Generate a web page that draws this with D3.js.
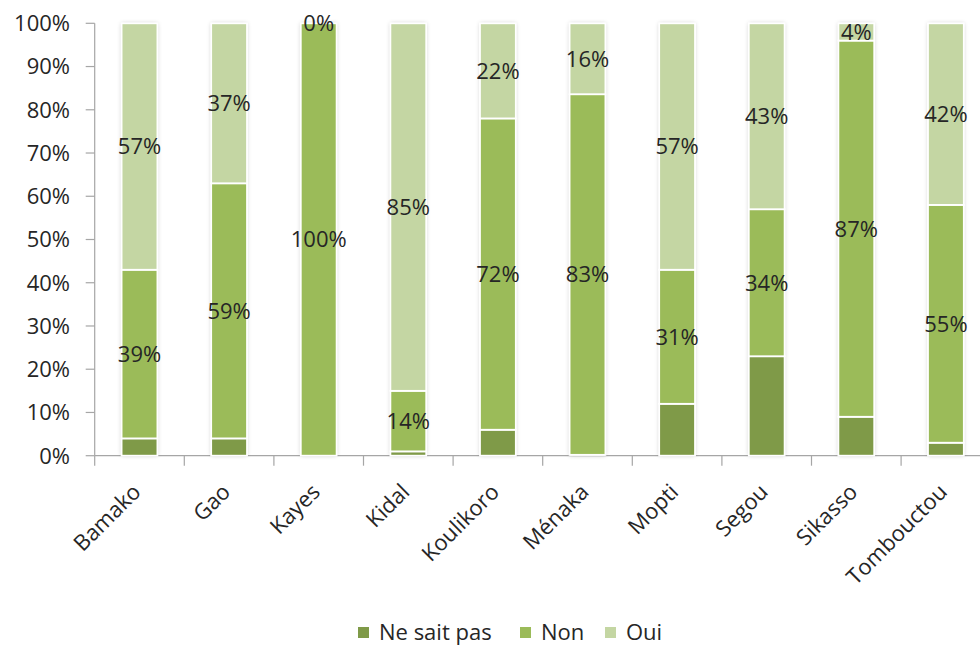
<!DOCTYPE html>
<html><head><meta charset="utf-8">
<script src="https://cdn.jsdelivr.net/npm/d3@7"></script>
<style>
html,body{margin:0;padding:0;background:#fff;}
svg{display:block;font-family:"Open Sans",sans-serif;}
</style></head>
<body><svg id="c" width="980" height="647"></svg>
<script>
const categories = ["Bamako","Gao","Kayes","Kidal","Koulikoro","Ménaka","Mopti","Segou","Sikasso","Tombouctou"];
const seriesNames = ["Ne sait pas","Non","Oui"];
const neSaitPas = [4, 4, 0, 1, 6, 0.2, 12, 23, 9, 3];
const non = [39, 59, 100, 14, 72, 83.4, 31, 34, 87, 55];
const oui = [57, 37, 0, 85, 22, 16.4, 57, 43, 4, 42];
const yTicks = [0,10,20,30,40,50,60,70,80,90,100];
const colors = ["#7f9a48","#9bbb59","#c4d6a3"];

const svg = d3.select("#c");
const defs = svg.append("defs");
const f = defs.append("filter").attr("id","sh").attr("x","-30%").attr("y","-5%").attr("width","160%").attr("height","110%");
f.append("feDropShadow").attr("dx",0).attr("dy",0).attr("stdDeviation",2).attr("flood-color","#000").attr("flood-opacity",0.22);

const x = d3.scaleBand().domain(categories).range([94.7, 990.7]).paddingInner(0.6).paddingOuter(0.3);
const y = d3.scaleLinear().domain([0,100]).range([455.7, 23.3]);

const rows = categories.map((c,i)=>({cat:c, "Ne sait pas":neSaitPas[i], "Non":non[i], "Oui":oui[i]}));
const stacked = d3.stack().keys(seriesNames)(rows);

// axes
const axisColor = "#a6a6a6";
svg.append("line").attr("x1",x.range()[0]).attr("x2",x.range()[0]).attr("y1",y(0)).attr("y2",y(100)).attr("stroke",axisColor).attr("stroke-width",1.2);
svg.selectAll(".yt").data(yTicks).enter().append("line")
  .attr("x1",x.range()[0]-9).attr("x2",x.range()[0]).attr("y1",d=>y(d)).attr("y2",d=>y(d)).attr("stroke",axisColor).attr("stroke-width",1.2);
svg.selectAll(".yl").data(yTicks).enter().append("text")
  .attr("x",70).attr("y",d=>y(d)).attr("dy","0.36em").attr("text-anchor","end")
  .attr("font-size",22).attr("fill","#262626").text(d=>d+"%");

const step = x.step();
const tickXs = categories.map(c=>x(c)+x.bandwidth()/2-step/2).concat([x(categories[categories.length-1])+x.bandwidth()/2+step/2]);
svg.selectAll(".xt").data(tickXs).enter().append("line")
  .attr("x1",d=>d).attr("x2",d=>d).attr("y1",y(0)).attr("y2",y(0)+10).attr("stroke",axisColor).attr("stroke-width",1.2);
svg.append("line").attr("x1",x.range()[0]).attr("x2",980).attr("y1",y(0)).attr("y2",y(0)).attr("stroke",axisColor).attr("stroke-width",1.2);

// bars
const g = svg.append("g");
g.selectAll(".bg").data(categories).enter().append("rect")
  .attr("x",d=>x(d)).attr("width",x.bandwidth()).attr("y",y(100)).attr("height",y(0)-y(100))
  .attr("fill","#fff").attr("filter","url(#sh)");
stacked.forEach((s,si)=>{
  g.selectAll(".s"+si).data(s.filter(d=>y(d[0])-y(d[1])>=1.5)).enter().append("rect")
    .attr("x",d=>x(d.data.cat)).attr("width",x.bandwidth())
    .attr("y",d=>y(d[1])).attr("height",d=>y(d[0])-y(d[1]))
    .attr("fill",colors[si]).attr("stroke","#fff").attr("stroke-width",1.8);
});

// labels (Non and Oui)
const fmt = v=>Math.round(v)+"%";
[1,2].forEach(si=>{
  svg.selectAll(".l"+si).data(stacked[si]).enter().append("text")
    .attr("x",d=>x(d.data.cat)+x.bandwidth()/2)
    .attr("y",d=>y((d[0]+d[1])/2))
    .attr("dy","0.36em").attr("text-anchor","middle").attr("font-size",22).attr("fill","#262626")
    .text(d=>fmt(d[1]-d[0]));
});

// category labels
svg.selectAll(".cl").data(categories).enter().append("text")
  .attr("transform",d=>`translate(${x(d)+x.bandwidth()/2-3},${y(0)+32}) rotate(-45)`)
  .attr("text-anchor","end").attr("dy","0.36em").attr("font-size",22).attr("fill","#262626").text(d=>d);

// legend
const legX = [358, 520, 605];
const lg = svg.append("g");
seriesNames.forEach((n,i)=>{
  lg.append("rect").attr("x",legX[i]).attr("y",627).attr("width",11).attr("height",11).attr("fill",colors[i]);
  lg.append("text").attr("x",legX[i]+21).attr("y",632).attr("dy","0.36em").attr("font-size",22).attr("fill","#262626").text(n);
});
</script></body></html>
